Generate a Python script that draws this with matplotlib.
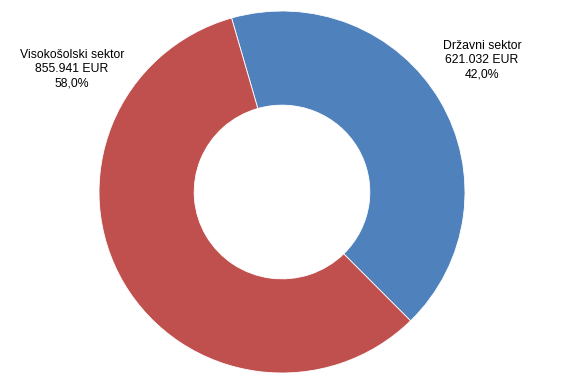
import matplotlib.pyplot as plt

plt.rcParams['font.family'] = ['Liberation Sans', 'DejaVu Sans']

# podatki
sektorji = ['Državni sektor', 'Visokošolski sektor']
zneski = [621032, 855941]
deleži = ['42,0%', '58,0%']
barve = ['#4F81BD', '#C0504D']

fig = plt.figure(figsize=(5.72, 3.8), dpi=100)
ax = fig.add_axes([(282 - 183) / 572, (380 - 373) / 380, 366 / 572, 362 / 380])

ax.pie(zneski, colors=barve, startangle=106, counterclock=False,
       wedgeprops=dict(width=0.52, edgecolor='white', linewidth=0.6))
ax.set_xlim(-1, 1)
ax.set_ylim(-1, 1)
ax.set_aspect('auto')
ax.axis('off')


def oznaka(i):
    znesek = f'{zneski[i]:,}'.replace(',', '.')
    return f'{sektorji[i]}\n{znesek} EUR\n{deleži[i]}'


fig.text(482 / 572, 1 - 60 / 380, oznaka(0), ha='center', va='center',
         fontsize=8.8, linespacing=1.25)
fig.text(72 / 572, 1 - 69 / 380, oznaka(1), ha='center', va='center',
         fontsize=8.8, linespacing=1.25)

fig.savefig('out.png', dpi=100)
